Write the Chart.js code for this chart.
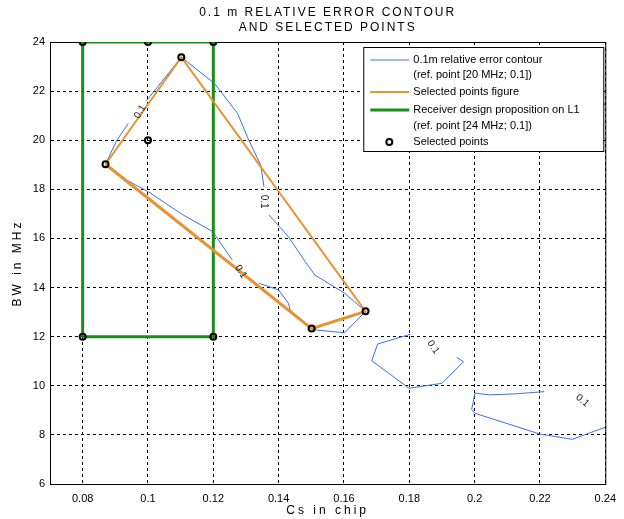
<!DOCTYPE html>
<html lang="en">
<head>
<meta charset="UTF-8">
<title>0.1 m relative error contour</title>
<script src="https://cdn.jsdelivr.net/npm/chart.js@4.4.0/dist/chart.umd.min.js"></script>
<style>
  html, body { margin: 0; padding: 0; background: #fff; }
  #wrap { width: 624px; height: 519px; }
</style>
</head>
<body>
<div id="wrap"><canvas id="contourChart"></canvas></div>
<script>
// axis ticks
const xTicks = [0.08, 0.10, 0.12, 0.14, 0.16, 0.18, 0.20, 0.22, 0.24];
const yTicks = [6, 8, 10, 12, 14, 16, 18, 20, 22, 24];

// 0.1 m contour pieces [Cs, BW] - broken where the "0.1" labels sit
const contourMain1 = [[0.1258, 15.12], [0.1198, 16.28], [0.1107, 16.96], [0.1001, 17.90], [0.0915, 18.52],
  [0.087, 19.02], [0.0905, 20.01], [0.094, 20.69]];
const contourMain2 = [[0.0995, 21.6], [0.1102, 23.38], [0.1203, 22.32], [0.1274, 21.10], [0.1304, 20.14],
  [0.1345, 18.99], [0.1355, 18.11]];
const contourMain3 = [[0.137, 16.96], [0.143, 16.07], [0.1481, 15.06], [0.1511, 14.51], [0.1602, 13.77],
  [0.1666, 13.03], [0.1602, 12.16], [0.1516, 12.27], [0.1501, 12.33], [0.1435, 13.09], [0.143, 13.36],
  [0.14, 13.90], [0.1339, 14.18]];
const contourMid = [[0.1804, 12.10], [0.1703, 11.70], [0.1685, 11.02], [0.1799, 9.90], [0.19, 10.10],
  [0.1966, 10.98], [0.1945, 11.16]];
const contourLow = [[0.2213, 9.76], [0.2122, 9.67], [0.2046, 9.63], [0.2001, 9.70], [0.1991, 9.04],
  [0.2001, 8.88], [0.2198, 8.04], [0.2299, 7.82], [0.24, 8.31]];
const contourEdge = [[0.2394, 21.40], [0.24, 21.52]];

// contour level labels
const labelCs = [0.0976, 0.1355, 0.1284, 0.1873, 0.233];
const labelBw = [21.16, 17.5, 14.65, 11.57, 9.40];
const labelText = ['0.1', '0.1', '0.1', '0.1', '0.1'];

// selected points figure (closed)
const figureCs = [0.087, 0.1102, 0.1666, 0.1501, 0.087];
const figureBw = [19.02, 23.38, 13.03, 12.33, 19.02];

// receiver design proposition on L1
const designCs = [0.08, 0.08, 0.12, 0.12, 0.08];
const designBw = [12, 24, 24, 12, 12];

// selected points markers
const selCs = [0.08, 0.10, 0.12, 0.08, 0.12, 0.10, 0.087, 0.1102, 0.1501, 0.1666];
const selBw = [24, 24, 24, 12, 12, 20, 19.02, 23.38, 12.33, 13.03];

const FONT = "'Liberation Sans', Arial, sans-serif";
const BLUE = '#3f6cf4';
const ORANGE = '#ea9230';
const GREEN = '#17901a';

const pairs = arr => arr.map(p => ({ x: p[0], y: p[1] }));
const zipPts = (xs, ys) => xs.map((x, i) => ({ x: x, y: ys[i] }));

function contourSet(pts) {
    return {
        label: '0.1m relative error contour',
        data: pairs(pts),
        showLine: true,
        borderColor: BLUE,
        borderWidth: 1,
        pointRadius: 0,
        order: 5
    };
}

// lower edges of the figure (P1 -> P3 -> P4) look heavier in the source
const lowerIdx = [0, 3, 2];

const extras = {
    id: 'extras',
    beforeDatasetsDraw(chart) {
        const { ctx, chartArea: a } = chart;
        ctx.save();
        ctx.strokeStyle = '#000';
        ctx.lineWidth = 1;
        ctx.strokeRect(a.left + 0.5, a.top + 0.5, a.right - a.left, a.bottom - a.top);
        ctx.restore();
    },
    afterDatasetsDraw(chart) {
        const { ctx, chartArea: a, scales } = chart;
        const angles = [-60, 90, 58, 55, 40];
        ctx.save();
        ctx.font = '10px ' + FONT;
        ctx.fillStyle = '#222';
        ctx.textAlign = 'center';
        ctx.textBaseline = 'middle';
        labelText.forEach((t, i) => {
            ctx.save();
            ctx.translate(scales.x.getPixelForValue(labelCs[i]), scales.y.getPixelForValue(labelBw[i]));
            ctx.rotate(angles[i] * Math.PI / 180);
            ctx.fillText(t, 0, 0);
            ctx.restore();
        });
        ctx.restore();

        // legend box inside the axes
        const bx = a.right - 242, by = a.top + 5, bw = 240, bh = 104;
        ctx.save();
        ctx.fillStyle = '#fff';
        ctx.fillRect(bx, by, bw, bh);
        ctx.strokeStyle = '#000';
        ctx.lineWidth = 1;
        ctx.strokeRect(bx + 0.5, by + 0.5, bw, bh);
        const rows = [
            { y: 13, color: BLUE, w: 1, text: '0.1m relative error contour' },
            { y: 28, text: '(ref. point [20 MHz; 0.1])' },
            { y: 45, color: ORANGE, w: 2, text: 'Selected points figure' },
            { y: 63, color: GREEN, w: 3, text: 'Receiver design proposition on L1' },
            { y: 79, text: '(ref. point [24 MHz; 0.1])' },
            { y: 95, marker: true, text: 'Selected points' }
        ];
        ctx.font = '11px ' + FONT;
        ctx.textAlign = 'left';
        ctx.textBaseline = 'middle';
        rows.forEach(r => {
            const yy = by + r.y;
            if (r.color) {
                ctx.strokeStyle = r.color;
                ctx.lineWidth = r.w;
                ctx.beginPath();
                ctx.moveTo(bx + 7, yy);
                ctx.lineTo(bx + 46, yy);
                ctx.stroke();
            }
            if (r.marker) {
                ctx.strokeStyle = '#000';
                ctx.lineWidth = 2;
                ctx.beginPath();
                ctx.arc(bx + 26, yy, 3, 0, Math.PI * 2);
                ctx.stroke();
            }
            ctx.fillStyle = '#000';
            ctx.fillText(r.text, bx + 50, yy);
        });
        ctx.restore();
    },
    afterDraw(chart) {
        const { ctx, chartArea: a } = chart;
        const cx = (a.left + a.right) / 2;
        ctx.save();
        ctx.fillStyle = '#000';
        ctx.textAlign = 'center';
        ctx.textBaseline = 'middle';
        ctx.font = '12px ' + FONT;
        ctx.letterSpacing = '2px';
        ctx.fillText('0.1 m RELATIVE ERROR CONTOUR', cx, 13);
        ctx.fillText('AND SELECTED POINTS', cx, 28);
        ctx.letterSpacing = '3px';
        ctx.fillText('Cs in chip', cx, 511);
        ctx.translate(18, (a.top + a.bottom) / 2);
        ctx.rotate(-Math.PI / 2);
        ctx.fillText('BW in MHz', 0, 0);
        ctx.restore();
    }
};

const ctx = document.getElementById('contourChart').getContext('2d');
const contourChart = new Chart(ctx, {
    type: 'scatter',
    data: {
        datasets: [
            contourSet(contourMain1),
            contourSet(contourMain2),
            contourSet(contourMain3),
            contourSet(contourMid),
            contourSet(contourLow),
            contourSet(contourEdge),
            {
                label: 'Receiver design proposition on L1',
                data: zipPts(designCs, designBw),
                showLine: true,
                borderColor: GREEN,
                borderWidth: 3,
                pointRadius: 0,
                order: 4
            },
            {
                label: 'Selected points figure',
                data: zipPts(figureCs, figureBw),
                showLine: true,
                borderColor: ORANGE,
                borderWidth: 2,
                pointRadius: 0,
                order: 3
            },
            {
                label: 'Selected points figure (lower)',
                data: lowerIdx.map(i => ({ x: figureCs[i], y: figureBw[i] })),
                showLine: true,
                borderColor: ORANGE,
                borderWidth: 3,
                pointRadius: 0,
                order: 2
            },
            {
                label: 'Selected points',
                data: zipPts(selCs, selBw),
                showLine: false,
                pointRadius: 3,
                pointBorderWidth: 2,
                pointBorderColor: '#000',
                pointBackgroundColor: 'rgba(0,0,0,0)',
                order: 1
            }
        ]
    },
    options: {
        responsive: true,
        maintainAspectRatio: false,
        animation: false,
        layout: { padding: { left: 0, right: 14, top: 42, bottom: 0 } },
        plugins: {
            legend: { display: false },
            tooltip: { enabled: false }
        },
        scales: {
            x: {
                type: 'linear',
                min: 0.07,
                max: 0.24,
                afterBuildTicks: s => { s.ticks = xTicks.map(v => ({ value: v })); },
                afterFit: s => { s.height = 35; },
                ticks: {
                    callback: v => String(+v.toFixed(2)),
                    font: { family: FONT, size: 11 },
                    color: '#000',
                    padding: 8,
                    maxRotation: 0,
                    autoSkip: false
                },
                grid: { color: '#000', lineWidth: 1, drawTicks: false },
                border: { color: '#000', width: 1, dash: [3, 3] }
            },
            y: {
                type: 'linear',
                min: 6,
                max: 24,
                afterBuildTicks: s => { s.ticks = yTicks.map(v => ({ value: v })); },
                afterFit: s => { s.width = 50; },
                ticks: {
                    font: { family: FONT, size: 11 },
                    color: '#000',
                    padding: 5,
                    autoSkip: false
                },
                grid: { color: '#000', lineWidth: 1, drawTicks: false },
                border: { color: '#000', width: 1, dash: [3, 3] }
            }
        }
    },
    plugins: [extras]
});
</script>
</body>
</html>
